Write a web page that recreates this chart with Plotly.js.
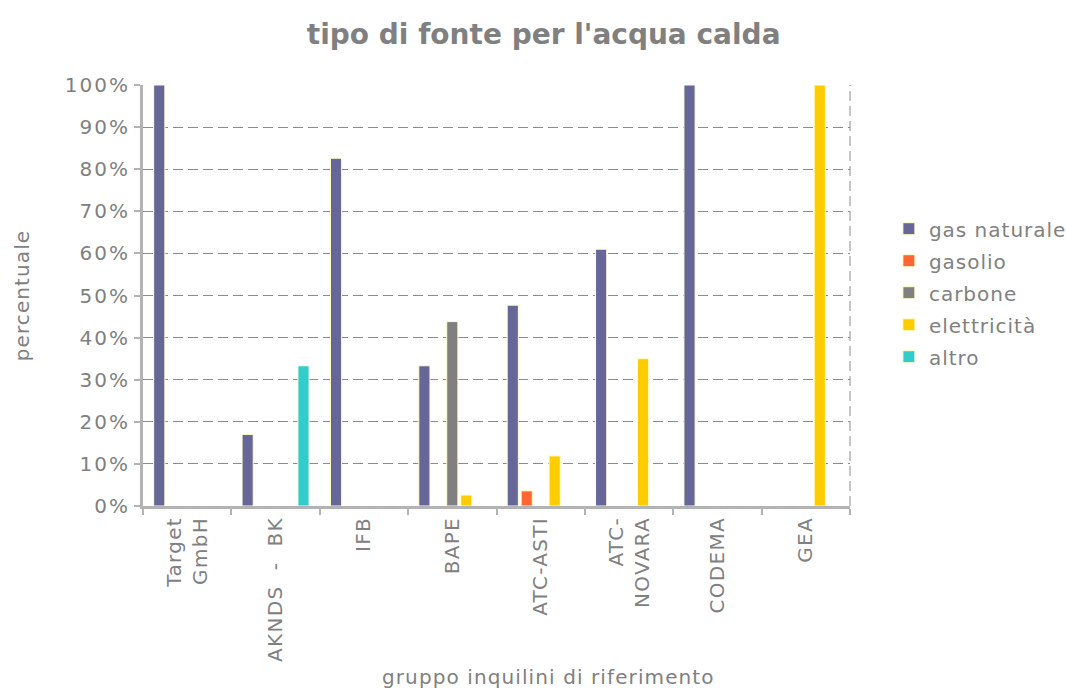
<!DOCTYPE html>
<html><head><meta charset="utf-8">
<script src="https://cdn.plot.ly/plotly-3.0.1.min.js"></script>
<style>
body{margin:0;background:#fff}#c{width:1066px;height:693px}
.ytick text{letter-spacing:2px}
.xtick text{letter-spacing:1.3px}
.legendtext{letter-spacing:1px}
.ytitle,.annotation-text{letter-spacing:1.1px}
</style>
</head><body><div id="c"></div>
<script>
const categories = ["Target<br>GmbH","AKNDS  -  BK","IFB","BAPE","ATC-ASTI","ATC-<br>NOVARA","CODEMA","GEA"];
const seriesNames = ["gas naturale","gasolio","carbone","elettricità","altro"];
const gasNaturale = [1.00,0.17,0.826,0.333,0.477,0.61,1.00,0];
const gasolio     = [0,0,0,0,0.036,0,0,0];
const carbone     = [0,0,0,0.438,0,0,0,0];
const elettricita = [0,0,0,0.026,0.119,0.35,0,1.00];
const altro       = [0,0.333,0,0,0,0,0,0];
const colors = ["#666699","#FF6633","#808080","#FFCC00","#33CCCC"];
const values = [gasNaturale,gasolio,carbone,elettricita,altro];

const font = "DejaVu Sans, Verdana, sans-serif";
const traces = values.map((v,i)=>({
  type:"bar", name:seriesNames[i], x:categories, y:v, legendgroup:"g"+i,
  marker:{color:colors[i], line:{color:"#FFFFCC", width:1}},
  hoverinfo:"skip"
}));

const layout = {
  width:1066, height:693,
  margin:{l:143, r:216, t:85, b:187, autoexpand:false},
  paper_bgcolor:"#fff", plot_bgcolor:"#fff",
  barmode:"group", bargap:0.21, bargroupgap:0.2,
  title:{text:"<b>tipo di fonte per l'acqua calda</b>", x:0.51, xref:"container", xanchor:"center", y:0.95, yanchor:"middle",
    font:{family:font, size:28, color:"#808080"}},
  font:{family:font, color:"#808080"},
  xaxis:{
    type:"category", tickangle:-90, tickson:"boundaries",
    ticks:"outside", ticklen:6, tickwidth:2, tickcolor:"#b3b3b3",
    showline:true, linecolor:"#b3b3b3", linewidth:3,
    showgrid:false, tickfont:{family:font, size:20, color:"#808080"},
    automargin:false
  },
  yaxis:{
    range:[0,1], tickformat:".0%", dtick:0.1,
    ticks:"outside", ticklen:6, tickwidth:2, tickcolor:"#b3b3b3",
    showline:true, linecolor:"#b3b3b3", linewidth:3,
    showgrid:true, gridcolor:"#8c8c8c", gridwidth:1, griddash:"10px,5px",
    zeroline:false,
    tickfont:{family:font, size:20, color:"#808080"},
    title:{text:"percentuale", font:{family:font, size:20, color:"#808080"}, standoff:30},
    automargin:false
  },
  legend:{x:1.055, y:0.705, xanchor:"left", yanchor:"top",
    font:{family:font, size:20, color:"#808080"}, tracegroupgap:3, itemwidth:30},
  annotations:[{text:"gruppo inquilini di riferimento", xref:"paper", yref:"paper",
    x:0.573, y:-0.405, xanchor:"center", yanchor:"middle", showarrow:false,
    font:{family:font, size:20, color:"#808080"}}],
  shapes:[{type:"line", xref:"paper", yref:"paper", x0:1, x1:1, y0:0, y1:1,
    line:{color:"#8c8c8c", width:1, dash:"10px,5px"}}]
};
Plotly.newPlot("c", traces, layout, {staticPlot:true});
</script>
</body></html>
